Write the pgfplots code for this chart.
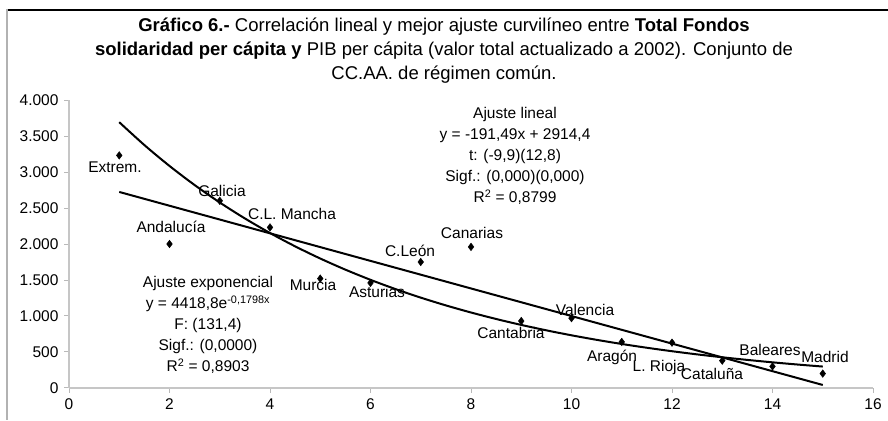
\documentclass[border=0pt]{standalone}
\usepackage{fontspec}
\setmainfont{Liberation Sans}
\usepackage{pgfplots}
\pgfplotsset{compat=1.18}
\pgfplotstableread{
x y
1 3230
2 2000
3 2600
4 2230
5 1520
6 1460
7 1750
8 1960
9 930
10 970
11 640
12 630
13 380
14 300
15 200
}\pts
\pgfplotstableread{
x y
1 3691.6
1.5 3374.2
2 3084.1
2.5 2818.9
3 2576.6
3.5 2355.1
4 2152.6
4.5 1967.5
5 1798.4
5.5 1643.8
6 1502.4
6.5 1373.2
7 1255.1
7.5 1147.2
8 1048.6
8.5 958.4
9 876.1
9.5 800.8
10 731.9
10.5 669.0
11 611.4
11.5 558.9
12 510.8
12.5 466.9
13 426.7
13.5 390.1
14 356.5
14.5 325.9
15 297.8
}\expfit
\pgfplotstableread{
x y
1 2722.9
15 42.05
}\linfit
\newcommand{\fs}{\fontsize{15.5pt}{21pt}\selectfont}
\begin{document}
\begin{tikzpicture}
\path[use as bounding box] (0pt,0pt) rectangle (888pt,420pt);
\fill[white] (0pt,0pt) rectangle (888pt,420pt);
\draw[black, line width=2.5pt] (6pt,410pt) -- (888pt,410pt);
\draw[gray!60, line width=2.5pt] (7pt,411pt) -- (7pt,0pt);
\begin{axis}[at={(69pt,32pt)}, anchor=south west, scale only axis,
  width=804pt, height=288pt, xmin=0, xmax=16, ymin=0, ymax=4000,
  axis x line=bottom, axis y line=left,
  axis line style={gray!45, line width=1.5pt, -},
  xtick={0,2,...,16}, ytick={0,500,...,4000},
  tick style={gray!55, line width=1pt}, major tick length=5pt, tick align=outside,
  scaled ticks=false,
  /pgf/number format/1000 sep={.},
  /pgf/number format/assume math mode=true,
  tick label style={font=\fs},
  xticklabel style={yshift=-2pt},
  yticklabel style={xshift=-2pt},
  clip=false]
\addplot[black, line width=2pt, smooth] table {\expfit};
\addplot[black, line width=2pt] table {\linfit};
\addplot[only marks, mark=diamond*, mark size=3.8pt, black] table {\pts};
\end{axis}
\begin{scope}[font=\fs]
\node[align=center, font=\fontsize{18.5pt}{24pt}\selectfont] at (444pt,369pt) {\textbf{Gráfico 6.-} Correlación lineal y mejor ajuste curvilíneo entre \textbf{Total Fondos}\\ \textbf{solidaridad per cápita y} PIB per cápita (valor total actualizado a 2002). Conjunto de\\ CC.AA. de régimen común.};
% point labels
\node at (115pt,253pt) {Extrem.};
\node at (222pt,229pt) {Galicia};
\node at (292pt,206pt) {C.L. Mancha};
\node at (171pt,193pt) {Andalucía};
\node at (313pt,135pt) {Murcia};
\node at (377pt,128pt) {Asturias};
\node at (410pt,169pt) {C.León};
\node at (472pt,187pt) {Canarias};
\node at (511pt,87pt) {Cantabria};
\node at (585pt,110pt) {Valencia};
\node at (612pt,63pt) {Aragón};
\node at (659pt,53pt) {L. Rioja};
\node at (712pt,46pt) {Cataluña};
\node at (770pt,70pt) {Baleares};
\node at (825pt,63pt) {Madrid};
% annotations
\node[align=center] at (515pt,264pt) {Ajuste lineal\\ y = -191,49x + 2914,4\\ t: (-9,9)(12,8)\\ Sigf.: (0,000)(0,000)\\ R\textsuperscript{2} = 0,8799};
\node[align=center] at (208pt,95pt) {Ajuste exponencial\\ y = 4418,8e\textsuperscript{-0,1798x}\\ F: (131,4)\\ Sigf.: (0,0000)\\ R\textsuperscript{2} = 0,8903};
\end{scope}
\end{tikzpicture}
\end{document}
